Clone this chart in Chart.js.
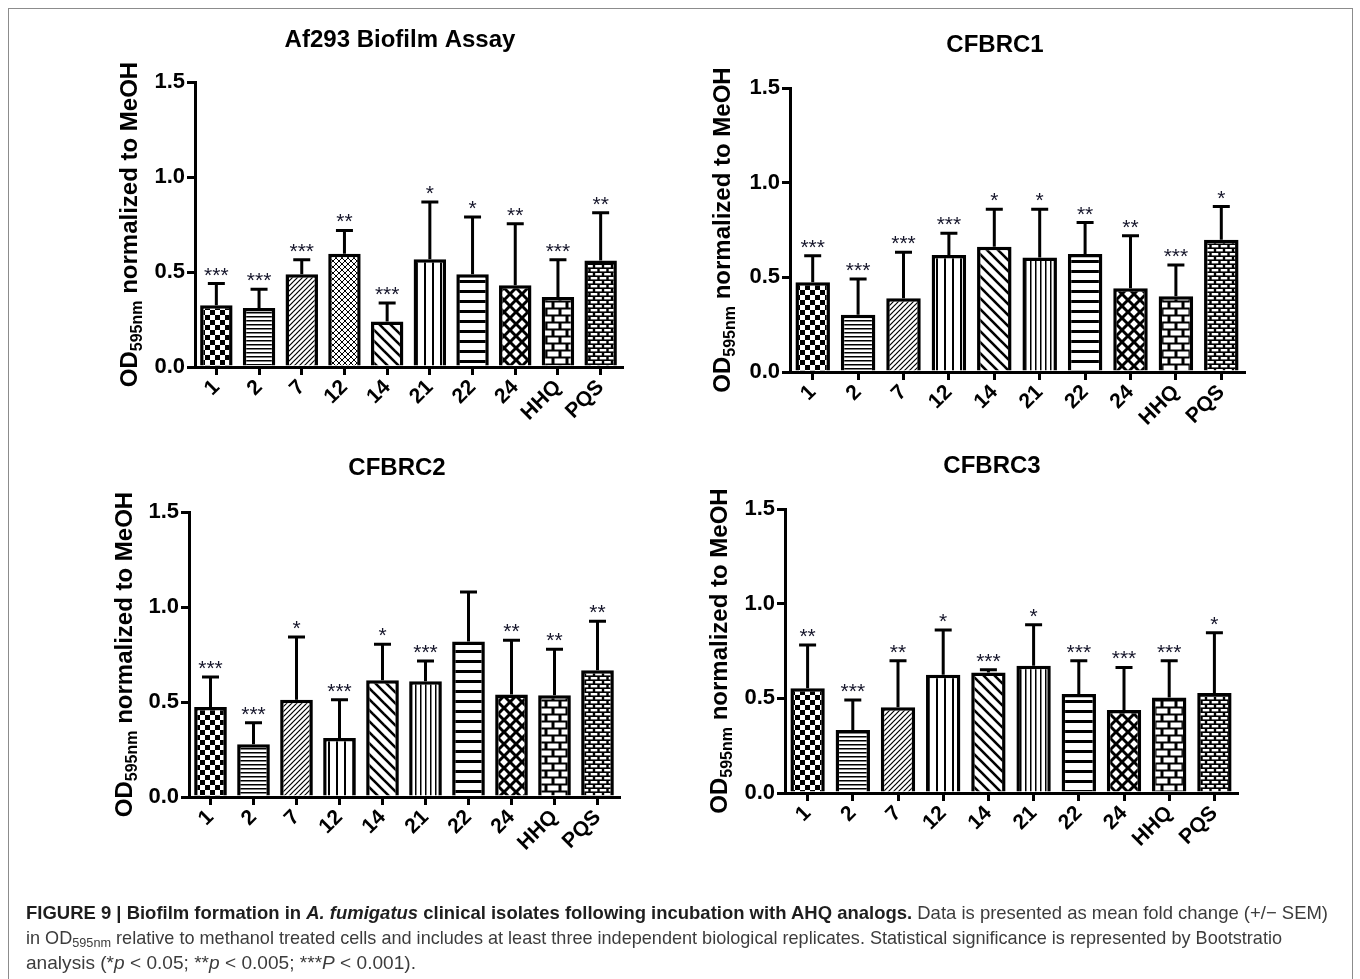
<!DOCTYPE html>
<html>
<head>
<meta charset="utf-8">
<script src="https://cdn.jsdelivr.net/npm/chart.js@4.4.1/dist/chart.umd.min.js"></script>
<style>
  html, body { margin: 0; padding: 0; background: #fff; }
  body { width: 1360px; height: 979px; position: relative; overflow: hidden; }
  canvas.panel { position: absolute; left: 0; top: 0; }
  #frame { position: absolute; left: 8px; top: 8px; width: 1343px; height: 990px; border: 1px solid #8c8c8c; }
  .cap { position: absolute; left: 26px; white-space: nowrap; font-family: "Liberation Sans Narrow", "Liberation Sans", Arial, sans-serif;
         font-size: 18.5px; line-height: 20px; color: #3c3c3c; transform-origin: 0 50%; }
  .cap b { color: #1e1e1e; }
  .cap sub { font-size: 13px; vertical-align: -3px; line-height: 0; }
</style>
</head>
<body>
<div id="frame"></div>
<canvas class="panel" id="c1" width="1360" height="979"></canvas>
<canvas class="panel" id="c2" width="1360" height="979"></canvas>
<canvas class="panel" id="c3" width="1360" height="979"></canvas>
<canvas class="panel" id="c4" width="1360" height="979"></canvas>

<div class="cap" id="l1" style="top:903px" data-w="1302"><b>FIGURE 9 | Biofilm formation in <i>A. fumigatus</i> clinical isolates following incubation with AHQ analogs.</b> Data is presented as mean fold change (+/− SEM)</div>
<div class="cap" id="l2" style="top:928px" data-w="1256">in OD<sub>595nm</sub> relative to methanol treated cells and includes at least three independent biological replicates. Statistical significance is represented by Bootstratio</div>
<div class="cap" id="l3" style="top:953px" data-w="390">analysis (*<i>p</i> &lt; 0.05; **<i>p</i> &lt; 0.005; ***<i>P</i> &lt; 0.001).</div>

<script>
// --- données ---
const categories = ['1', '2', '7', '12', '14', '21', '22', '24', 'HHQ', 'PQS'];
const yTicks = [0, 0.5, 1.0, 1.5];

const af293Mean = [0.325, 0.310, 0.488, 0.596, 0.240, 0.567, 0.488, 0.430, 0.368, 0.561];
const af293Sem  = [0.114, 0.099, 0.077, 0.123, 0.097, 0.301, 0.301, 0.324, 0.197, 0.251];
const af293Stars = ['***', '***', '***', '**', '***', '*', '*', '**', '***', '**'];

const cfbrc1Mean = [0.474, 0.302, 0.389, 0.618, 0.661, 0.605, 0.623, 0.442, 0.400, 0.698];
const cfbrc1Sem  = [0.140, 0.189, 0.243, 0.115, 0.199, 0.255, 0.166, 0.277, 0.165, 0.176];
const cfbrc1Stars = ['***', '***', '***', '***', '*', '*', '**', '**', '***', '*'];

const cfbrc2Mean = [0.474, 0.277, 0.512, 0.310, 0.614, 0.609, 0.819, 0.539, 0.535, 0.667];
const cfbrc2Sem  = [0.158, 0.114, 0.330, 0.202, 0.190, 0.107, 0.260, 0.286, 0.242, 0.258];
const cfbrc2Stars = ['***', '***', '*', '***', '*', '***', '', '**', '**', '**'];

const cfbrc3Mean = [0.553, 0.333, 0.453, 0.625, 0.637, 0.672, 0.523, 0.439, 0.505, 0.528];
const cfbrc3Sem  = [0.229, 0.158, 0.245, 0.236, 0.014, 0.216, 0.175, 0.224, 0.193, 0.319];
const cfbrc3Stars = ['**', '***', '**', '*', '***', '*', '***', '***', '***', '*'];

// motifs de remplissage (style seulement)
const patternsAf293 = ['checker', 'hfine', 'diag', 'cross', 'diagCoarse', 'vmed', 'hcoarse', 'diamond', 'brick', 'brickFine'];
const patternsIsolates = ['checker', 'hfine', 'diag', 'vmed', 'diagCoarse', 'vfine', 'hcoarse', 'diamond', 'brick', 'brickFine'];

const FONT = '"Liberation Sans", Arial, sans-serif';
const Y_AXIS_W = 60;
const X_AXIS_H = 70;

// --- motifs ---
function makePattern(kind) {
    const c = document.createElement('canvas');
    const g = c.getContext('2d');
    let w = 10, h = 10;
    const line = (x1, y1, x2, y2, lw) => {
        g.strokeStyle = '#000'; g.lineWidth = lw;
        g.beginPath(); g.moveTo(x1, y1); g.lineTo(x2, y2); g.stroke();
    };
    switch (kind) {
        case 'checker': w = h = 10; break;
        case 'hfine': w = h = 4; break;
        case 'hcoarse': w = h = 10; break;
        case 'vmed': w = h = 8; break;
        case 'vfine': w = h = 5; break;
        case 'diag': w = h = 5; break;
        case 'diagCoarse': w = h = 11; break;
        case 'cross': w = h = 6; break;
        case 'diamond': w = h = 12; break;
        case 'brick': w = 14; h = 14; break;
        case 'brickFine': w = 9; h = 8; break;
    }
    c.width = w; c.height = h;
    g.fillStyle = '#fff';
    g.fillRect(0, 0, w, h);
    g.fillStyle = '#000';
    if (kind === 'checker') {
        g.fillRect(0, 0, 5, 5); g.fillRect(5, 5, 5, 5);
    } else if (kind === 'hfine') {
        g.fillRect(0, 0, 4, 1.5);
    } else if (kind === 'hcoarse') {
        g.fillRect(0, 0, 10, 3);
    } else if (kind === 'vmed') {
        g.fillRect(0, 0, 2, 8);
    } else if (kind === 'vfine') {
        g.fillRect(0, 0, 1.5, 5);
    } else if (kind === 'diag') {
        line(-1, w + 1, w + 1, -1, 1.2); line(-1, 1, 1, -1, 1.2); line(w - 1, w + 1, w + 1, w - 1, 1.2);
    } else if (kind === 'diagCoarse') {
        line(-1, -1, w + 1, w + 1, 2.6); line(w - 1, -1, w + 1, 1, 2.6); line(-1, w - 1, 1, w + 1, 2.6);
    } else if (kind === 'cross') {
        line(-1, w + 1, w + 1, -1, 1); line(-1, -1, w + 1, w + 1, 1);
        line(-1, 1, 1, -1, 1); line(w - 1, w + 1, w + 1, w - 1, 1);
        line(w - 1, -1, w + 1, 1, 1); line(-1, w - 1, 1, w + 1, 1);
    } else if (kind === 'diamond') {
        line(-2, w + 2, w + 2, -2, 3); line(-2, -2, w + 2, w + 2, 3);
        line(-2, 2, 2, -2, 3); line(w - 2, w + 2, w + 2, w - 2, 3);
        line(w - 2, -2, w + 2, 2, 3); line(-2, w - 2, 2, w + 2, 3);
    } else if (kind === 'brick') {
        // briques blanches, joints noirs fins
        g.fillRect(0, 0, w, h);
        g.fillStyle = '#fff';
        g.fillRect(1.5, 1.5, 11, 5);
        g.fillRect(8.5, 8.5, 5.5, 5); g.fillRect(0, 8.5, 5.5, 5);
    } else if (kind === 'brickFine') {
        g.fillRect(0, 0, w, h);
        g.fillStyle = '#fff';
        g.fillRect(1.2, 1, 6.6, 2.4);
        g.fillRect(5.7, 5, 3.3, 2.4); g.fillRect(0, 5, 3.3, 2.4);
    }
    return g.createPattern(c, 'repeat');
}

// --- barres d'erreur + étoiles ---
const errorBarsPlugin = {
    id: 'errorBars',
    afterDatasetsDraw(chart, args, opts) {
        const { ctx } = chart;
        const ys = chart.scales.y;
        const meta = chart.getDatasetMeta(0);
        ctx.save();
        ctx.strokeStyle = '#000';
        ctx.lineWidth = 3;
        ctx.lineCap = 'butt';
        opts.mean.forEach((m, i) => {
            const x = meta.data[i].x;
            const yBar = ys.getPixelForValue(m);
            const yTop = ys.getPixelForValue(m + opts.sem[i]);
            ctx.beginPath();
            ctx.moveTo(x, yBar);
            ctx.lineTo(x, yTop);
            ctx.moveTo(x - 8.5, yTop);
            ctx.lineTo(x + 8.5, yTop);
            ctx.stroke();
            if (opts.stars[i]) {
                ctx.fillStyle = '#15152a';
                ctx.font = '21px ' + FONT;
                ctx.textAlign = 'center';
                ctx.textBaseline = 'alphabetic';
                ctx.fillText(opts.stars[i], x, yTop - 2);
            }
        });
        ctx.restore();
    }
};

// --- titres (avec indice dans le titre de l'axe) ---
const titlesPlugin = {
    id: 'titles',
    afterDraw(chart, args, opts) {
        const { ctx, chartArea } = chart;
        ctx.save();
        ctx.fillStyle = '#000';
        ctx.font = 'bold 24px ' + FONT;
        ctx.textAlign = 'center';
        ctx.textBaseline = 'middle';
        ctx.fillText(opts.title, opts.titleX, opts.titleY);

        const parts = [
            ['OD', 'bold 24px ' + FONT, 0],
            ['595nm', 'bold 16px ' + FONT, 5],
            [' normalized to MeOH', 'bold 24px ' + FONT, 0]
        ];
        let total = 0;
        parts.forEach(p => { ctx.font = p[1]; total += ctx.measureText(p[0]).width; });
        ctx.translate(opts.yTitleX, (chartArea.top + chartArea.bottom) / 2);
        ctx.rotate(-Math.PI / 2);
        ctx.textAlign = 'left';
        ctx.textBaseline = 'alphabetic';
        let pos = -total / 2;
        parts.forEach(p => {
            ctx.font = p[1];
            ctx.fillText(p[0], pos, p[2]);
            pos += ctx.measureText(p[0]).width;
        });
        ctx.restore();
    }
};

function axisStyle() {
    return {
        display: true,
        drawOnChartArea: false,
        drawTicks: true,
        offset: false,
        tickLength: 8,
        color: '#000',
        lineWidth: 3
    };
}

function makePanel(canvasId, p) {
    const canvas = document.getElementById(canvasId);
    new Chart(canvas, {
        type: 'bar',
        data: {
            labels: categories,
            datasets: [{
                data: p.mean,
                backgroundColor: p.patterns.map(makePattern),
                borderColor: '#000',
                borderWidth: 3.5,
                barPercentage: 0.76,
                categoryPercentage: 1
            }]
        },
        options: {
            responsive: false,
            animation: false,
            devicePixelRatio: 1,
            layout: {
                padding: {
                    left: p.area.l - Y_AXIS_W,
                    top: p.area.t,
                    right: 1360 - p.area.r,
                    bottom: 979 - p.area.b - X_AXIS_H
                }
            },
            plugins: {
                legend: { display: false },
                tooltip: { enabled: false },
                title: { display: false },
                errorBars: { mean: p.mean, sem: p.sem, stars: p.stars },
                titles: { title: p.title, titleX: p.titleX, titleY: p.titleY, yTitleX: p.yTitleX }
            },
            scales: {
                x: {
                    z: 1,
                    grid: axisStyle(),
                    border: { display: true, color: '#000', width: 3 },
                    ticks: {
                        color: '#000',
                        font: { family: FONT, weight: 'bold', size: 21 },
                        minRotation: 45,
                        maxRotation: 45,
                        autoSkip: false,
                        padding: 0
                    },
                    afterFit: s => { s.height = X_AXIS_H; }
                },
                y: {
                    min: 0,
                    max: 1.5,
                    grid: axisStyle(),
                    border: { display: true, color: '#000', width: 3 },
                    afterBuildTicks: s => { s.ticks = yTicks.map(v => ({ value: v })); },
                    ticks: {
                        color: '#000',
                        font: { family: FONT, weight: 'bold', size: 22 },
                        padding: 2,
                        callback: v => Number(v).toFixed(1)
                    },
                    afterFit: s => { s.width = Y_AXIS_W; }
                }
            }
        },
        plugins: [errorBarsPlugin, titlesPlugin]
    });
}

makePanel('c1', {
    title: 'Af293 Biofilm Assay', titleX: 400, titleY: 40, yTitleX: 137,
    area: { l: 195, t: 82, r: 622, b: 367 },
    mean: af293Mean, sem: af293Sem, stars: af293Stars, patterns: patternsAf293
});
makePanel('c2', {
    title: 'CFBRC1', titleX: 995, titleY: 45, yTitleX: 730,
    area: { l: 790, t: 88, r: 1244, b: 372 },
    mean: cfbrc1Mean, sem: cfbrc1Sem, stars: cfbrc1Stars, patterns: patternsIsolates
});
makePanel('c3', {
    title: 'CFBRC2', titleX: 397, titleY: 468, yTitleX: 132,
    area: { l: 189, t: 512, r: 619, b: 797 },
    mean: cfbrc2Mean, sem: cfbrc2Sem, stars: cfbrc2Stars, patterns: patternsIsolates
});
makePanel('c4', {
    title: 'CFBRC3', titleX: 992, titleY: 466, yTitleX: 727,
    area: { l: 785, t: 509, r: 1237, b: 793 },
    mean: cfbrc3Mean, sem: cfbrc3Sem, stars: cfbrc3Stars, patterns: patternsIsolates
});

// --- légende : ajuste la largeur de chaque ligne ---
document.querySelectorAll('.cap').forEach(el => {
    const w = el.getBoundingClientRect().width;
    const target = Number(el.dataset.w);
    el.style.transform = 'scaleX(' + (target / w) + ')';
});
</script>
</body>
</html>
